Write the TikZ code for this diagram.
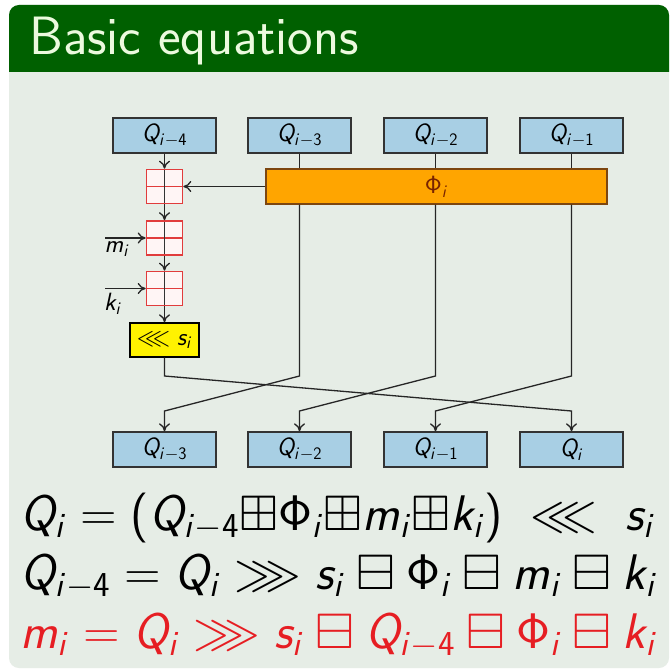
\RequirePackage{fix-cm}
\documentclass[tikz,border=0pt]{standalone}
\usepackage{amssymb}
\usepackage{amsmath}
\usepackage{tikz}
\usetikzlibrary{arrows.meta,positioning,calc}

% sans serif math, as on the slide
\DeclareFontFamily{U}{msa}{}
\DeclareFontShape{U}{msa}{m}{n}{<-> msam10}{}
\SetSymbolFont{operators}{normal}{OT1}{cmss}{m}{n}
\DeclareSymbolFont{sfit}{OT1}{cmss}{m}{sl}
\DeclareMathSymbol{Q}{\mathalpha}{sfit}{`Q}
\DeclareMathSymbol{i}{\mathalpha}{sfit}{`i}
\DeclareMathSymbol{m}{\mathalpha}{sfit}{`m}
\DeclareMathSymbol{k}{\mathalpha}{sfit}{`k}
\DeclareMathSymbol{s}{\mathalpha}{sfit}{`s}

\definecolor{bodybg}{RGB}{230,237,230}
\definecolor{titlegreen}{RGB}{0,96,0}
\definecolor{titletext}{RGB}{236,250,222}
\definecolor{qblue}{RGB}{168,207,228}
\definecolor{addred}{RGB}{225,60,60}
\definecolor{phiorange}{RGB}{255,165,0}
\definecolor{phiedge}{RGB}{125,70,15}
\definecolor{phitext}{RGB}{120,35,0}
\definecolor{eqred}{RGB}{230,30,35}

\begin{document}
\begin{tikzpicture}[x=1pt, y=-1pt,
  qbox/.style={draw=black!80, line width=1.4pt, fill=qblue, minimum width=103pt, minimum height=35pt, inner sep=0pt, font=\fontsize{25}{30}\selectfont},
  addbox/.style={draw=addred, line width=1.6pt, fill=red!4, minimum width=36pt, minimum height=34pt, inner sep=0pt,
    path picture={
      \draw[addred, line width=1.4pt] (path picture bounding box.west) -- (path picture bounding box.east);
      \draw[black!80, line width=1.3pt] (path picture bounding box.north) -- (path picture bounding box.south);}},
  rotbox/.style={draw=black, line width=1.4pt, fill=yellow, minimum width=69pt, minimum height=34pt, inner sep=0pt, font=\fontsize{25}{30}\selectfont},
  phibar/.style={draw=phiedge, line width=1.4pt, fill=phiorange, minimum width=341pt, minimum height=35pt, inner sep=0pt, text=phitext, font=\fontsize{25}{30}\selectfont},
  wire/.style={line width=1.3pt, draw=black!85},
  arr/.style={wire, -{To[length=8pt,width=11pt]}},
  lbl/.style={font=\fontsize{25}{30}\selectfont, inner sep=0pt},
  eqn/.style={font=\fontsize{50}{54}\selectfont, anchor=base west, inner sep=0pt}
]
\useasboundingbox (0,0) rectangle (669,671);

% slide frame
\fill[white] (0,0) rectangle (669,671);
\fill[bodybg, rounded corners=10pt] (9,5) rectangle (669,668);
\fill[titlegreen] (9,72) [rounded corners=10pt] -- (9,5) -- (669,5) [sharp corners] -- (669,72) -- cycle;
\node[anchor=base west, inner sep=0pt, text=titletext, font=\sffamily\fontsize{54}{60}\selectfont] (title) at (29,55) {Basic equations};

% registers, before and after the step
\foreach \n/\x/\t in {q4/164.5/{i-4}, q3/299.5/{i-3}, q2/435.5/{i-2}, q1/571.5/{i-1}}
  \node[qbox] (\n) at (\x,135.5) {$Q_{\t}$};
\foreach \n/\x/\t in {b3/164.5/{i-3}, b2/299.5/{i-2}, b1/435.5/{i-1}, b0/571.5/{i}}
  \node[qbox] (\n) at (\x,449.5) {$Q_{\t}$};

\node[phibar] (phi) at (436.5,186.5) {$\Phi_i$};

\node[addbox] (a1) at (164.5,186.5) {};
\node[addbox] (a2) at (164.5,238) {};
\node[addbox] (a3) at (164.5,288.5) {};
\node[rotbox] (rot) at (164.5,340) {$\lll s_i$};

\coordinate (min) at (105,238);
\coordinate (kin) at (105,288.5);
\coordinate (bendA) at (0,376);
\coordinate (bendB) at (0,411);

\draw[arr] (q4) -- (a1);
\draw[arr] (a1) -- (a2);
\draw[arr] (a2) -- (a3);
\draw[arr] (a3) -- (rot);
\draw[arr] (phi) -- (a1);
\draw[arr] (min) -- (a2);
\draw[arr] (kin) -- (a3);
\node[lbl, anchor=north] (mlbl) at (117,242) {$m_i$};
\node[lbl, anchor=north] (klbl) at (113,293) {$k_i$};

% shift of the registers
\foreach \s/\d in {q3/b3, q2/b2, q1/b1} {
  \draw[wire] (\s.south) -- (\s.south |- phi.north);
  \draw[arr] (\s.south |- phi.south) -- (\s.south |- bendA) -- (\d.north |- bendB) -- (\d.north);
}
\draw[arr] (rot.south) -- (rot.south |- bendA) -- (b0.north |- bendB) -- (b0.north);

% equations
\node[eqn] (eq1) at (20,530) {$Q_i = (Q_{i-4}{\boxplus}\Phi_i{\boxplus}m_i{\boxplus}k_i)\mkern5mu \lll\mkern5mu s_i$};
\node[eqn] (eq2) at (20,589) {$Q_{i-4} = Q_i \ggg s_i \boxminus \Phi_i \boxminus m_i \boxminus k_i$};
\node[eqn, text=eqred] (eq3) at (20,648) {$m_i = Q_i \ggg s_i \boxminus Q_{i-4} \boxminus \Phi_i \boxminus k_i$};
\end{tikzpicture}
\end{document}
